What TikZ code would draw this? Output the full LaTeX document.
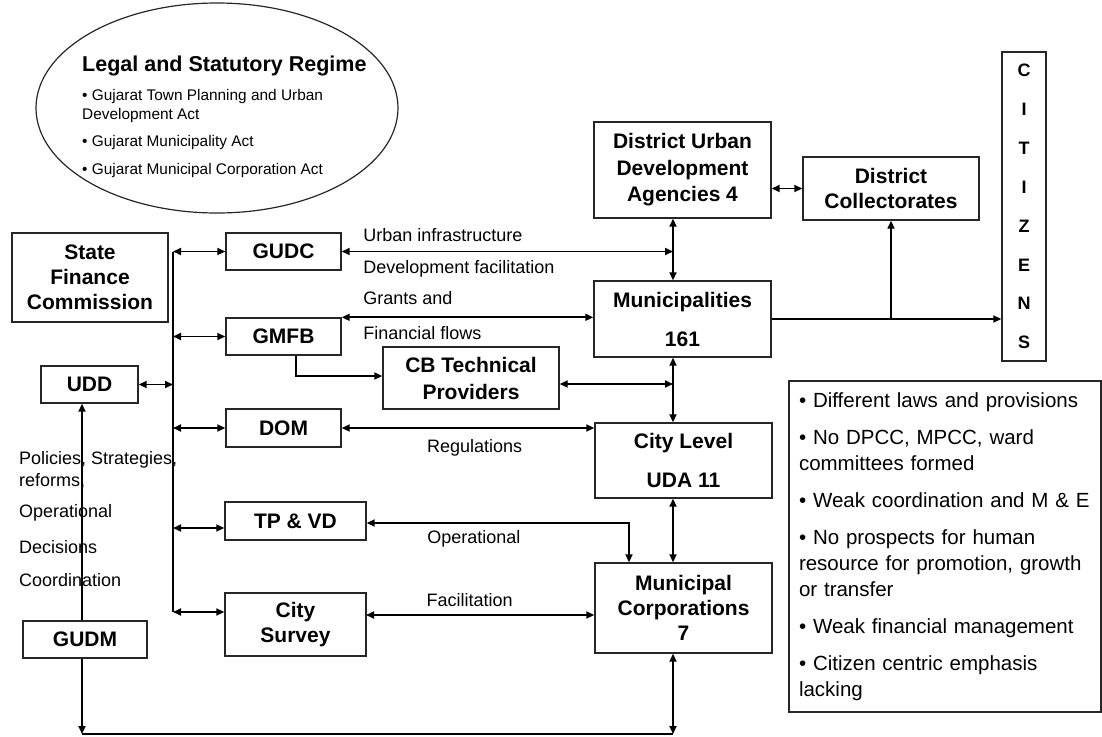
\documentclass[tikz,border=0pt]{standalone}
\usepackage{fontspec}
\setmainfont{Liberation Sans}
\usetikzlibrary{arrows.meta,shapes.geometric}

\begin{document}
\begin{tikzpicture}[x=1pt,y=-1pt,>={Triangle[length=8pt,width=7pt]},
 box/.style={draw=black!85,line width=1.4pt,align=center,inner sep=0pt,font=\fontsize{21}{25}\selectfont\bfseries},
 link/.style={->,line width=1.7pt},
 both/.style={<->,line width=1.7pt},
 wire/.style={line width=1.7pt},
 ann/.style={font=\fontsize{18}{22}\selectfont,inner sep=0pt,anchor=west},
 bul/.style={font=\fontsize{15.4}{19}\selectfont,align=left,inner sep=0pt,anchor=west}]
 \useasboundingbox (0,0) rectangle (1102,736);
 % legal regime
 \node[draw=black!85,line width=1.2pt,ellipse,minimum width=362pt,minimum height=210pt,inner sep=0pt] (regime) at (217,108) {};
 \node[font=\fontsize{21.5}{24}\selectfont\bfseries,anchor=west,inner sep=0pt] (regtitle) at (82,66) {Legal and Statutory Regime};
 \node[bul] (reg1) at (82,106.5) {• Gujarat Town Planning and Urban\\Development Act};
 \node[bul] (reg2) at (82,143) {• Gujarat Municipality Act};
 \node[bul] (reg3) at (82,171) {• Gujarat Municipal Corporation Act};
 % state level
 \node[box,minimum width=156pt,minimum height=89pt] (sfc) at (90,277.5) {State\\Finance\\Commission};
 \node[box,minimum width=115pt,minimum height=37pt] (gudc) at (283.5,251.5) {GUDC};
 \node[box,minimum width=115pt,minimum height=37pt] (gmfb) at (283.5,336.5) {GMFB};
 \node[box,minimum width=115pt,minimum height=38pt] (dom) at (283.5,428) {DOM};
 \node[box,minimum width=141pt,minimum height=38pt] (tpvd) at (295.5,521) {TP \& VD};
 \node[box,minimum width=141pt,minimum height=63pt] (csurvey) at (295.5,624.5) {City\\Survey};
 \node[box,minimum width=97pt,minimum height=37pt] (udd) at (89.5,384.5) {UDD};
 \node[box,minimum width=124pt,minimum height=37pt] (gudm) at (85,639.5) {GUDM};
 \node[box,minimum width=176pt,minimum height=62pt,font=\fontsize{21}{27}\selectfont\bfseries] (cbtp) at (471,378) {CB Technical\\Providers};
 % local level
 \node[box,minimum width=177pt,minimum height=96pt,font=\fontsize{21}{26.5}\selectfont\bfseries] (duda) at (682.5,170) {District Urban\\Development\\Agencies 4};
 \node[box,minimum width=176pt,minimum height=63pt] (dcoll) at (891,188.5) {District\\Collectorates};
 \node[box,minimum width=177pt,minimum height=76pt] (muni) at (682.5,319) {Municipalities\\[14pt]161};
 \node[box,minimum width=177pt,minimum height=75pt] (clevel) at (683.5,460.5) {City Level\\[14pt]UDA 11};
 \node[box,minimum width=177pt,minimum height=90pt] (mcorp) at (683.5,608) {Municipal\\Corporations\\7};
 \node[box,minimum width=44pt,minimum height=309pt,font=\fontsize{18}{38.9}\selectfont\bfseries] (citizens) at (1024,206.5) {C\\I\\T\\I\\Z\\E\\N\\S};
 \node[draw=black!85,line width=1.2pt,text width=292pt,inner xsep=10pt,inner ysep=0pt,minimum height=331pt,align=left,font=\fontsize{20.5}{26}\selectfont] (issues) at (945,546.5) {%
• Different laws and provisions\\[11pt]%
• No DPCC, MPCC, ward\\committees formed\\[11pt]%
• Weak coordination and M \& E\\[11pt]%
• No prospects for human\\resource for promotion, growth\\or transfer\\[11pt]%
• Weak financial management\\[11pt]%
• Citizen centric emphasis\\lacking};
 % left notes
 \node[ann,align=left] (policies) at (19,470) {Policies, Strategies,\\reforms,};
 \node[ann] (operl) at (19,513) {Operational};
 \node[ann] (decis) at (19,547) {Decisions};
 \node[ann] (coord) at (19,580) {Coordination};
 % junctions
 \coordinate (spine) at (673,0);
 \coordinate (bustop) at (173,252);
 \coordinate (busbot) at (173,612);
 \coordinate (tpin) at (173,528);
 \coordinate (cbjoin) at (673,384);
 \coordinate (cbdrop) at (296,376);
 \coordinate (tpbend) at (629,523);
 \coordinate (csjoin) at (366,615);
 \coordinate (botL) at (82,734);
 \coordinate (botR) at (673,734);
 % state bus
 \draw[wire] (bustop) -- (busbot);
 \draw[both] (gudc.west -| bustop) -- (gudc.west);
 \draw[both] (gmfb.west -| bustop) -- (gmfb.west);
 \draw[both] (dom.west -| bustop) -- (dom.west);
 \draw[both] (tpin) -- (tpin -| tpvd.west);
 \draw[both] (busbot) -- (busbot -| csurvey.west);
 \draw[both] (udd.east) -- (udd.east -| bustop);
 % gudm
 \draw[link] (botL |- gudm.north) -- (botL |- udd.south);
 \draw[link] (botL |- gudm.south) -- (botL);
 \draw[wire] (botL) -- (botR);
 \draw[both] (botR |- mcorp.south) -- (botR);
 % to the urban bodies
 \draw[both] (gudc.east) -- node[ann,pos=0.063,yshift=16.5pt] {Urban infrastructure} node[ann,pos=0.063,yshift=-17.5pt] {Development facilitation} (spine |- gudc.east);
 \draw[both] (spine |- duda.south) -- (spine |- muni.north);
 \draw[both] (gmfb.north east) -- node[ann,pos=0.083,yshift=19pt] {Grants and} node[ann,pos=0.083,yshift=-16pt] {Financial flows} (gmfb.north east -| muni.west);
 \draw[link] (cbdrop |- gmfb.south) |- (cbdrop -| cbtp.west);
 \draw[both] (cbjoin -| cbtp.east) -- (cbjoin);
 \draw[both] (spine |- muni.south) -- (spine |- clevel.north);
 \draw[both] (dom.east) -- node[ann,pos=0.335,yshift=-20pt] {Regulations} (dom.east -| clevel.west);
 \draw[both] (tpbend -| tpvd.east) -- node[ann,pos=0.228,yshift=-16pt] {Operational} (tpbend) -- (tpbend |- mcorp.north);
 \draw[both] (spine |- clevel.south) -- (spine |- mcorp.north);
 \draw[both] (csjoin) -- node[ann,pos=0.262,yshift=15pt] {Facilitation} (csjoin -| mcorp.west);
 % district level and citizens
 \draw[both] (dcoll.west -| duda.east) -- (dcoll.west);
 \draw[link] (muni.east) -- (muni.east -| citizens.west);
 \draw[link] (dcoll.south |- muni.east) -- (dcoll.south);
\end{tikzpicture}
\end{document}
